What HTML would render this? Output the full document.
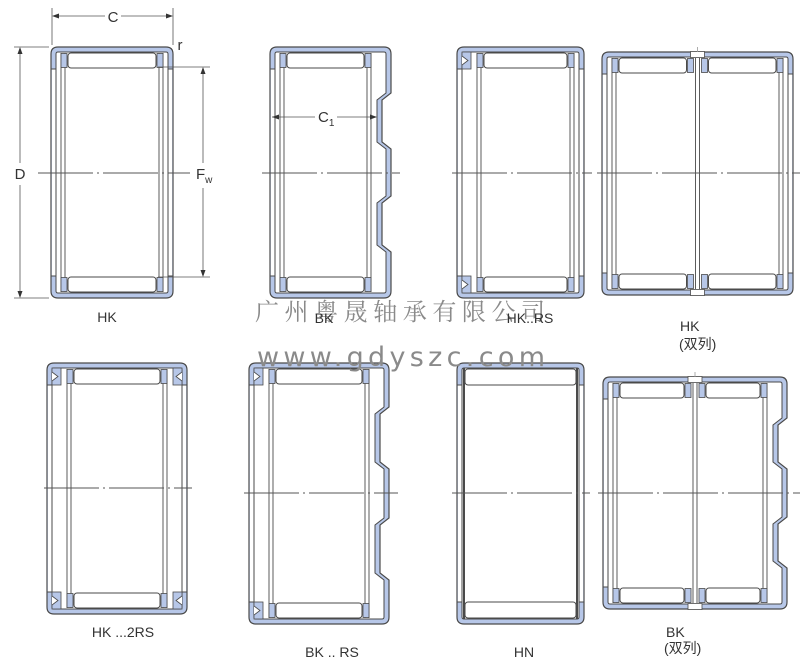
<!DOCTYPE html>
<html><head><meta charset="utf-8"><style>
html,body{margin:0;padding:0;background:#fff}
svg{display:block}
</style></head><body>
<svg id="s" width="800" height="666" viewBox="0 0 800 666" xmlns="http://www.w3.org/2000/svg" font-family="Liberation Sans, sans-serif"></svg>
<script>
var B='#b7c7e8',K='#4a4a4a',out=[];
function p(s){out.push(s);}
function shellPath(x,y,w,h,r,bumps,d,off){
  var s='M'+(x+r)+','+y+' H'+(x+w-r)+' Q'+(x+w)+','+y+' '+(x+w)+','+(y+r);
  (bumps||[]).forEach(function(b){
    var a=b[0]-off,c=b[1]-off;
    s+=' V'+(y+a)+' L'+(x+w-d)+','+(y+a+7)+' V'+(y+c)+' L'+(x+w)+','+(y+c+7);
  });
  s+=' V'+(y+h-r)+' Q'+(x+w)+','+(y+h)+' '+(x+w-r)+','+(y+h)+' H'+(x+r)+' Q'+x+','+(y+h)+' '+x+','+(y+h-r)+' V'+(y+r)+' Q'+x+','+y+' '+(x+r)+','+y+' Z';
  return s;
}
function mirror(b,h){var r=b.slice();b.slice().reverse().forEach(function(q){r.push([h-q[1]-7,h-q[0]-7]);});return r;}
function bearing(x,y,w,h,o){
  o=o||{};
  var bumps=o.bumps?mirror(o.bumps,h):null;
  p('<path d="'+shellPath(x,y,w,h,7,bumps,9,0)+'" fill="'+B+'" stroke="'+K+'" stroke-width="1.2"/>');
  p('<rect x="'+(x+0.8)+'" y="'+(y+22)+'" width="4.6" height="'+(h-44)+'" fill="#fff"/>');
  if(!o.bumps)p('<rect x="'+(x+w-5.4)+'" y="'+(y+22)+'" width="4.6" height="'+(h-44)+'" fill="#fff"/>');
  p('<path d="'+shellPath(x+5,y+5,w-10,h-10,2,bumps,9,5)+'" fill="#fff" stroke="'+K+'" stroke-width="1"/>');
  [y+22,y+h-22].forEach(function(yy){p('<line x1="'+x+'" y1="'+yy+'" x2="'+(x+5)+'" y2="'+yy+'" stroke="'+K+'"/>');
    if(!o.bumps)p('<line x1="'+(x+w-5)+'" y1="'+yy+'" x2="'+(x+w)+'" y2="'+yy+'" stroke="'+K+'"/>');});
  var sl=o.sealL?10:0,sr=o.sealR?10:0,rr=o.bumps?10:0;
  function seal(sx,flip){
    [y+5,y+h-22].forEach(function(yy,i){
      p('<rect x="'+sx+'" y="'+yy+'" width="9" height="17" fill="'+B+'" stroke="'+K+'" stroke-width="0.8"/>');
      var tx=flip?sx+9:sx, dx=flip?-6:6;
      p('<path d="M'+tx+','+(yy+4)+' L'+(tx+dx)+','+(yy+8.5)+' L'+tx+','+(yy+13)+'" fill="#fff" stroke="'+K+'" stroke-width="0.8"/>');
    });
  }
  if(o.sealL)seal(x+5,false);
  if(o.sealR)seal(x+w-14,true);
  if(o.hn){
    p('<line x1="'+(x+7)+'" y1="'+(y+5)+'" x2="'+(x+7)+'" y2="'+(y+h-5)+'" stroke="'+K+'" stroke-width="2"/>');
    p('<line x1="'+(x+w-7)+'" y1="'+(y+5)+'" x2="'+(x+w-7)+'" y2="'+(y+h-5)+'" stroke="'+K+'" stroke-width="2"/>');
    [y+6,y+h-22].forEach(function(yy){p('<rect x="'+(x+8)+'" y="'+yy+'" width="'+(w-16)+'" height="16" rx="3" fill="#fff" stroke="'+K+'"/>');});
    return;
  }
  var L=x+sl, R=x+w-sr-rr;
  [L+10,L+14].forEach(function(lx){p('<line x1="'+lx+'" y1="'+(y+6)+'" x2="'+lx+'" y2="'+(y+h-6)+'" stroke="'+K+'" stroke-width="0.9"/>');});
  [R-10,R-14].forEach(function(lx){p('<line x1="'+lx+'" y1="'+(y+6)+'" x2="'+lx+'" y2="'+(y+h-6)+'" stroke="'+K+'" stroke-width="0.9"/>');});
  function sq(sx,yy){p('<rect x="'+sx+'" y="'+yy+'" width="6" height="14" fill="'+B+'" stroke="'+K+'" stroke-width="0.8"/>');}
  function rl(a,b,yy){p('<rect x="'+a+'" y="'+yy+'" width="'+(b-a)+'" height="15" rx="3" fill="#fff" stroke="'+K+'"/>');}
  var ys=[y+6,y+h-21];
  if(o.dbl){
    var m=x+w/2;
    p('<rect x="'+(m-7)+'" y="'+(y-0.5)+'" width="14" height="6" fill="#fff" stroke="'+K+'" stroke-width="0.8"/>');
    p('<rect x="'+(m-7)+'" y="'+(y+h-5.5)+'" width="14" height="6" fill="#fff" stroke="'+K+'" stroke-width="0.8"/>');
    p('<line x1="'+m+'" y1="'+(y-5)+'" x2="'+m+'" y2="'+y+'" stroke="#999" stroke-width="0.8"/>');
    [m-2,m+2].forEach(function(lx){p('<line x1="'+lx+'" y1="'+(y+6)+'" x2="'+lx+'" y2="'+(y+h-6)+'" stroke="'+K+'" stroke-width="0.9"/>');});
    ys.forEach(function(yy){
      sq(L+10,yy+0.5);sq(m-10,yy+0.5);sq(m+4,yy+0.5);sq(R-16,yy+0.5);
      rl(L+17,m-11,yy);rl(m+11,R-17,yy);
    });
  } else {
    ys.forEach(function(yy){sq(L+10,yy+0.5);sq(R-16,yy+0.5);rl(L+17,R-17,yy);});
  }
}
function cl(x1,x2,y){p('<line x1="'+x1+'" y1="'+y+'" x2="'+x2+'" y2="'+y+'" stroke="#555" stroke-width="0.9" stroke-dasharray="55 4 2 4"/>');}
function t(x,y,s,fs,anchor){p('<text x="'+x+'" y="'+y+'" font-size="'+(fs||14)+'" fill="#333" text-anchor="'+(anchor||'middle')+'">'+s+'</text>');}

bearing(51,47,122,251);cl(38,190,173);
bearing(270,47,121,251,{bumps:[[46,95]]});cl(262,400,173);
bearing(457,47,127,251,{sealL:1});cl(452,592,173);
bearing(602,52,191,243,{dbl:1});cl(597,800,173);
bearing(47,363,140,251,{sealL:1,sealR:1});cl(44,192,488);
bearing(249,363,140,261,{sealL:1,bumps:[[44,99]]});cl(244,398,493);
bearing(457,363,127,261,{hn:1});cl(452,590,493);
bearing(603,377,184,232,{dbl:1,bumps:[[41,85]]});cl(598,800,493);

p('<g stroke="#555" stroke-width="0.8" fill="none">'+
 '<line x1="52" y1="8" x2="52" y2="45"/><line x1="173" y1="8" x2="173" y2="45"/>'+
 '<line x1="54" y1="16" x2="105" y2="16"/><line x1="121" y1="16" x2="171" y2="16"/>'+
 '<line x1="14" y1="47" x2="49" y2="47"/><line x1="14" y1="298" x2="49" y2="298"/>'+
 '<line x1="20" y1="49" x2="20" y2="163"/><line x1="20" y1="185" x2="20" y2="296"/>'+
 '<line x1="158" y1="67" x2="210" y2="67"/><line x1="158" y1="277" x2="210" y2="277"/>'+
 '<line x1="203" y1="69" x2="203" y2="163"/><line x1="203" y1="188" x2="203" y2="275"/>'+
 '<line x1="272" y1="117" x2="315" y2="117"/><line x1="337" y1="117" x2="376" y2="117"/>'+
 '</g>');
p('<g fill="#333">'+
 '<path d="M52,16 l7,-2.5 v5z"/><path d="M173,16 l-7,-2.5 v5z"/>'+
 '<path d="M20,47 l-2.5,7 h5z"/><path d="M20,298 l-2.5,-7 h5z"/>'+
 '<path d="M203,67 l-2.5,7 h5z"/><path d="M203,277 l-2.5,-7 h5z"/>'+
 '<path d="M272,117 l7,-2.5 v5z"/><path d="M377,117 l-7,-2.5 v5z"/>'+
 '</g>');
t(113,22,'C',15);t(180,50,'r',15);t(20,179,'D',15);
p('<text x="196" y="179" font-size="15" fill="#333">F<tspan font-size="10" dy="4">w</tspan></text>');
p('<text x="318" y="122" font-size="15" fill="#333">C<tspan font-size="10" dy="4">1</tspan></text>');

p('<text x="255" y="320" font-size="24" fill="#8a8a8a" textLength="290" lengthAdjust="spacing" font-family="Noto Serif CJK SC, serif">广州粤晟轴承有限公司</text>');
p('<text x="257" y="366" font-size="27" fill="#8a8a8a" textLength="288" lengthAdjust="spacing" font-family="DejaVu Sans, sans-serif">www.gdyszc.com</text>');

t(107,322,'HK');t(324,323,'BK');t(530,323,'HK..RS');
t(680,331,'HK','14','start');
p('<text x="679" y="349" font-size="14" fill="#333" font-family="Liberation Sans, Noto Sans CJK SC, sans-serif">(双列)</text>');
t(123,637,'HK ...2RS');t(332,657,'BK .. RS');t(524,657,'HN');
t(666,637,'BK','14','start');
p('<text x="664" y="653" font-size="14" fill="#333" font-family="Liberation Sans, Noto Sans CJK SC, sans-serif">(双列)</text>');

document.getElementById('s').innerHTML=out.join('');
</script>
</body></html>
